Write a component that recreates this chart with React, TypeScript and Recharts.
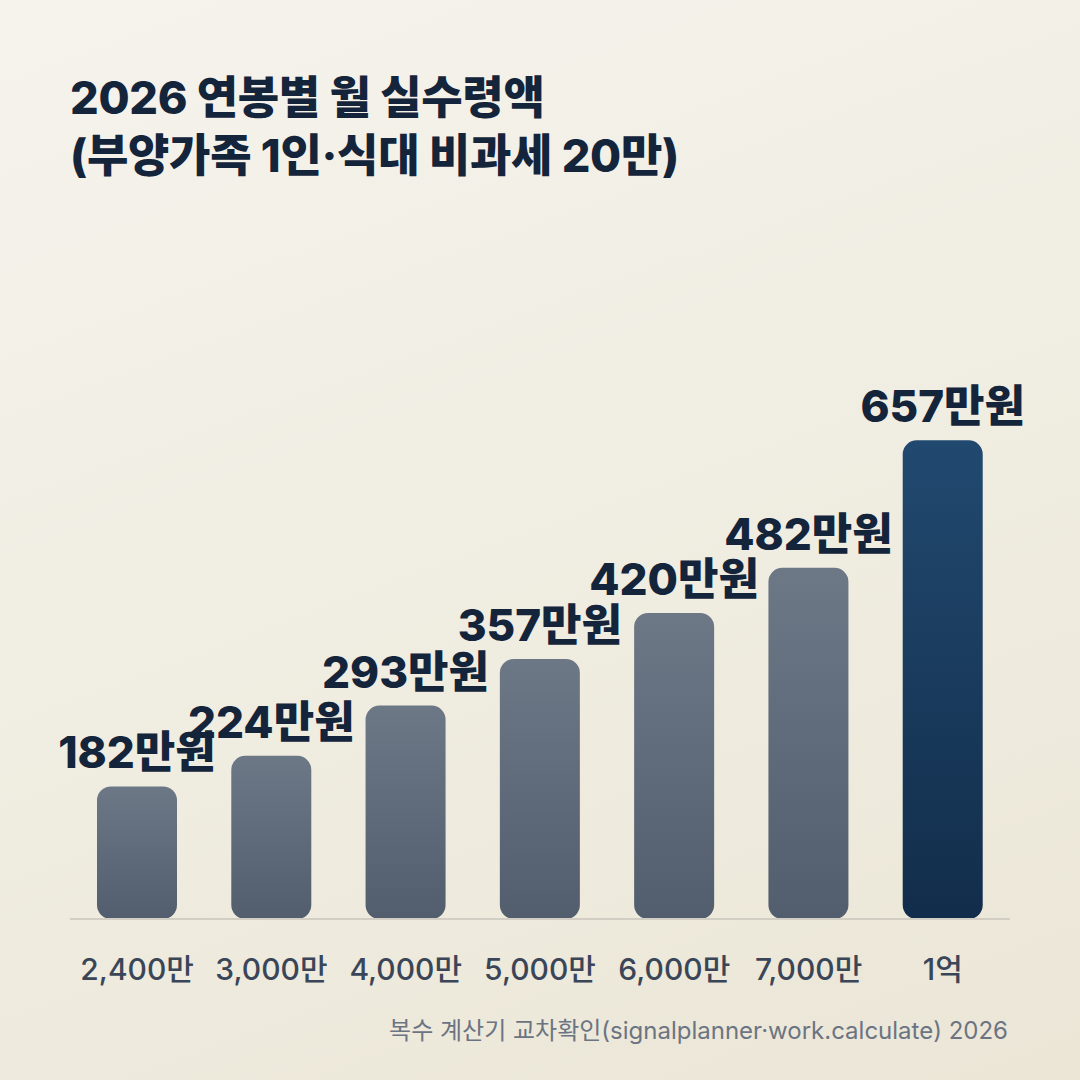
import { Bar, BarChart, Cell, LabelList, XAxis, YAxis } from 'recharts'

const salaries = ['2,400만', '3,000만', '4,000만', '5,000만', '6,000만', '7,000만', '1억']
const netPay = [182, 224, 293, 357, 420, 482, 657]
const highlighted = ['1억']

const data = salaries.map((name, i) => ({ name, value: netPay[i] }))

const FONT = "Inter, 'Noto Sans CJK KR', sans-serif"

const App = () => {
    return (
        <div
            style={{
                position: 'fixed',
                left: 0,
                top: 0,
                width: 1080,
                height: 1080,
                background: 'linear-gradient(160deg, #f5f3ec 0%, #f0ede2 50%, #ebe6d6 100%)',
                fontFamily: FONT,
                overflow: 'hidden',
            }}
        >
            <div
                style={{
                    position: 'absolute',
                    left: 70,
                    top: 69,
                    fontSize: 45,
                    lineHeight: '58px',
                    fontWeight: 800,
                    color: '#14253b',
                    letterSpacing: -0.3,
                }}
            >
                2026 연봉별 월 실수령액
                <br />
                (부양가족 1인·식대 비과세 20만)
            </div>
            <div style={{ position: 'absolute', left: 0, top: 0 }}>
                <BarChart
                    width={1080}
                    height={1080}
                    data={data}
                    margin={{ top: 409, right: 70, bottom: 101, left: 70 }}
                >
                    <defs>
                        <linearGradient id="grayBar" x1="0" y1="0" x2="0" y2="1">
                            <stop offset="0%" stopColor="#6c7886" />
                            <stop offset="100%" stopColor="#525e6e" />
                        </linearGradient>
                        <linearGradient id="navyBar" x1="0" y1="0" x2="0" y2="1">
                            <stop offset="0%" stopColor="#21496f" />
                            <stop offset="100%" stopColor="#122d4b" />
                        </linearGradient>
                    </defs>
                    <XAxis
                        dataKey="name"
                        height={60}
                        axisLine={{ stroke: '#d2cec3', strokeWidth: 2 }}
                        tickLine={false}
                        tickMargin={34}
                        tick={{ fill: '#3a4658', fontSize: 30, fontWeight: 500, fontFamily: FONT }}
                        interval={0}
                    />
                    <YAxis hide domain={[0, 700]} />
                    <Bar dataKey="value" barSize={80} radius={[14, 14, 14, 14]} isAnimationActive={false}>
                        {data.map((d, i) => (
                            <Cell key={`cell-${i}`} fill={highlighted.includes(d.name) ? 'url(#navyBar)' : 'url(#grayBar)'} />
                        ))}
                        <LabelList
                            dataKey="value"
                            position="top"
                            offset={18}
                            formatter={(v: number) => `${v}만원`}
                            style={{ fill: '#14253b', fontSize: 44, fontWeight: 800, fontFamily: FONT }}
                        />
                    </Bar>
                </BarChart>
            </div>
            <div
                style={{
                    position: 'absolute',
                    right: 72,
                    top: 1011,
                    fontSize: 24,
                    color: '#6b7482',
                    whiteSpace: 'nowrap',
                }}
            >
                복수 계산기 교차확인(signalplanner·work.calculate) 2026
            </div>
        </div>
    )
}

export default App
